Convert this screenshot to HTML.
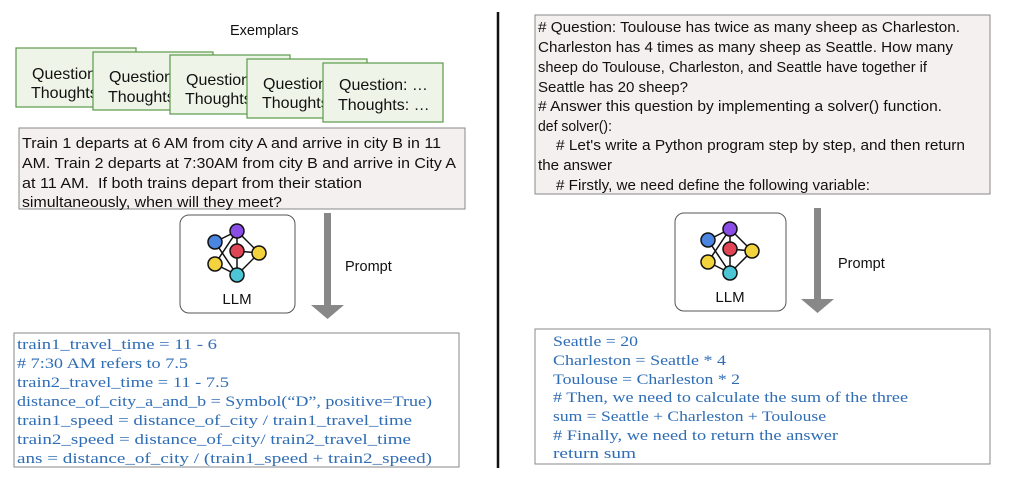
<!DOCTYPE html>
<html><head><meta charset="utf-8"><style>
html,body{margin:0;padding:0;background:#fff;width:1022px;height:486px;overflow:hidden}
svg text{font-family:"Liberation Sans",sans-serif;fill:#111}
svg text.code{font-family:"Liberation Serif",serif;fill:#2f6db5}
</style></head><body>
<svg width="1022" height="486" viewBox="0 0 1022 486" xmlns="http://www.w3.org/2000/svg">
<line x1="498" y1="12" x2="498" y2="468" stroke="#111" stroke-width="2.5"/>

<text x="230" y="35" font-size="14.5">Exemplars</text>
<g>
<rect x="16" y="48" width="120" height="59" fill="#eef5e8" stroke="#5a9a4a" stroke-width="1.2"/>
<text x="32" y="79" font-size="16">Question</text><text x="31" y="98" font-size="16">Thoughts</text></g>
<g>
<rect x="93" y="52" width="120" height="58" fill="#eef5e8" stroke="#5a9a4a" stroke-width="1.2"/>
<text x="109" y="82" font-size="16">Question</text><text x="108" y="102" font-size="16">Thoughts</text></g>
<g>
<rect x="170" y="55" width="120" height="59" fill="#eef5e8" stroke="#5a9a4a" stroke-width="1.2"/>
<text x="186" y="85" font-size="16">Question</text><text x="185" y="104" font-size="16">Thoughts</text></g>
<g>
<rect x="247" y="59" width="120" height="59" fill="#eef5e8" stroke="#5a9a4a" stroke-width="1.2"/>
<text x="263" y="89" font-size="16">Question</text><text x="262" y="108" font-size="16">Thoughts</text></g>
<g>
<rect x="323" y="63" width="120" height="59" fill="#eef5e8" stroke="#5a9a4a" stroke-width="1.2"/>
<text x="339" y="90" font-size="16">Question: …</text><text x="338" y="110" font-size="16">Thoughts: …</text></g>

<g>
<rect x="19" y="128" width="446" height="81" fill="#f5f0f0" stroke="#888" stroke-width="1"/>
<text x="22" y="148" font-size="14.5" textLength="419" lengthAdjust="spacingAndGlyphs">Train 1 departs at 6 AM from city A and arrive in city B in 11</text>
<text x="22" y="168" font-size="14.5" textLength="434" lengthAdjust="spacingAndGlyphs">AM. Train 2 departs at 7:30AM from city B and arrive in City A</text>
<text x="22" y="188" font-size="14.5" textLength="340" lengthAdjust="spacingAndGlyphs" xml:space="preserve">at 11 AM.  If both trains depart from their station</text>
<text x="22" y="207" font-size="14.5" textLength="260" lengthAdjust="spacingAndGlyphs">simultaneously, when will they meet?</text>
</g>

<g>
<rect x="180" y="215" width="115" height="98" rx="9" fill="#fff" stroke="#555" stroke-width="1"/>
<g stroke="#111" stroke-width="1.5" fill="none">
<line x1="215" y1="242" x2="237" y2="231"/><line x1="215" y1="242" x2="237" y2="275"/>
<line x1="237" y1="231" x2="259" y2="253"/><line x1="237" y1="231" x2="215" y2="264"/><line x1="237" y1="231" x2="237" y2="251"/>
<line x1="237" y1="251" x2="259" y2="253"/><line x1="237" y1="251" x2="237" y2="275"/><line x1="215" y1="264" x2="237" y2="275"/>
<line x1="259" y1="253" x2="237" y2="275"/>
</g>
<g stroke="#111" stroke-width="1.5">
<circle cx="215" cy="242" r="7" fill="#4a86e0"/><circle cx="237" cy="231" r="7" fill="#8a4de6"/>
<circle cx="237" cy="251" r="7" fill="#e04555"/><circle cx="259" cy="253" r="7" fill="#f2d33c"/>
<circle cx="215" cy="264" r="7" fill="#f2d33c"/><circle cx="237" cy="275" r="7" fill="#4cc6d4"/>
</g>
<text x="237" y="304" font-size="15" text-anchor="middle">LLM</text>
</g>

<g>
<rect x="324" y="213" width="7" height="93" fill="#888"/>
<polygon points="311,305 344,305 327.5,319" fill="#888"/>
</g>
<text x="345" y="271" font-size="14.5">Prompt</text>

<g>
<rect x="14" y="333" width="445" height="134" fill="#fff" stroke="#888" stroke-width="1"/>
<text class="code" x="17" y="349" font-size="15" textLength="200" lengthAdjust="spacingAndGlyphs">train1_travel_time = 11 - 6</text>
<text class="code" x="17" y="368" font-size="15" textLength="171" lengthAdjust="spacingAndGlyphs"># 7:30 AM refers to 7.5</text>
<text class="code" x="17" y="387" font-size="15" textLength="212" lengthAdjust="spacingAndGlyphs">train2_travel_time = 11 - 7.5</text>
<text class="code" x="17" y="406" font-size="15" textLength="415" lengthAdjust="spacingAndGlyphs">distance_of_city_a_and_b = Symbol(“D”, positive=True)</text>
<text class="code" x="17" y="425" font-size="15" textLength="395" lengthAdjust="spacingAndGlyphs">train1_speed = distance_of_city / train1_travel_time</text>
<text class="code" x="17" y="444" font-size="15" textLength="394" lengthAdjust="spacingAndGlyphs">train2_speed = distance_of_city/ train2_travel_time</text>
<text class="code" x="17" y="463" font-size="15" textLength="415" lengthAdjust="spacingAndGlyphs">ans = distance_of_city / (train1_speed + train2_speed)</text>
</g>

<g>
<rect x="535" y="15" width="455" height="179" fill="#f5f0f0" stroke="#888" stroke-width="1"/>
<text x="538" y="32" font-size="14.5" textLength="422" lengthAdjust="spacingAndGlyphs"># Question: Toulouse has twice as many sheep as Charleston.</text>
<text x="538" y="52" font-size="14.5" textLength="415" lengthAdjust="spacingAndGlyphs">Charleston has 4 times as many sheep as Seattle. How many</text>
<text x="538" y="72" font-size="14.5" textLength="389" lengthAdjust="spacingAndGlyphs">sheep do Toulouse, Charleston, and Seattle have together if</text>
<text x="538" y="92" font-size="14.5" textLength="150" lengthAdjust="spacingAndGlyphs">Seattle has 20 sheep?</text>
<text x="538" y="111" font-size="14.5" textLength="404" lengthAdjust="spacingAndGlyphs"># Answer this question by implementing a solver() function.</text>
<text x="538" y="131" font-size="14.5" textLength="74" lengthAdjust="spacingAndGlyphs">def solver():</text>
<text x="556" y="150" font-size="14.5" textLength="409" lengthAdjust="spacingAndGlyphs"># Let's write a Python program step by step, and then return</text>
<text x="538" y="170" font-size="14.5" textLength="74" lengthAdjust="spacingAndGlyphs">the answer</text>
<text x="556" y="190" font-size="14.5" textLength="314" lengthAdjust="spacingAndGlyphs"># Firstly, we need define the following variable:</text>
</g>

<g transform="translate(493,-2)">
<rect x="182" y="215" width="111" height="98" rx="9" fill="#fff" stroke="#555" stroke-width="1"/>
<g stroke="#111" stroke-width="1.5" fill="none">
<line x1="215" y1="242" x2="237" y2="231"/><line x1="215" y1="242" x2="237" y2="275"/>
<line x1="237" y1="231" x2="259" y2="253"/><line x1="237" y1="231" x2="215" y2="264"/><line x1="237" y1="231" x2="237" y2="251"/>
<line x1="237" y1="251" x2="259" y2="253"/><line x1="237" y1="251" x2="237" y2="275"/><line x1="215" y1="264" x2="237" y2="275"/>
<line x1="259" y1="253" x2="237" y2="275"/>
</g>
<g stroke="#111" stroke-width="1.5">
<circle cx="215" cy="242" r="7" fill="#4a86e0"/><circle cx="237" cy="231" r="7" fill="#8a4de6"/>
<circle cx="237" cy="251" r="7" fill="#e04555"/><circle cx="259" cy="253" r="7" fill="#f2d33c"/>
<circle cx="215" cy="264" r="7" fill="#f2d33c"/><circle cx="237" cy="275" r="7" fill="#4cc6d4"/>
</g>
<text x="237" y="304" font-size="15" text-anchor="middle">LLM</text>
</g>

<g>
<rect x="814" y="208" width="7" height="92" fill="#888"/>
<polygon points="801,299 834,299 817.5,313" fill="#888"/>
</g>
<text x="838" y="268" font-size="14.5">Prompt</text>

<g>
<rect x="535" y="329" width="455" height="135" fill="#fff" stroke="#888" stroke-width="1"/>
<text class="code" x="553" y="346" font-size="15" textLength="85" lengthAdjust="spacingAndGlyphs">Seattle = 20</text>
<text class="code" x="553" y="365" font-size="15" textLength="173" lengthAdjust="spacingAndGlyphs">Charleston = Seattle * 4</text>
<text class="code" x="553" y="384" font-size="15" textLength="187" lengthAdjust="spacingAndGlyphs">Toulouse = Charleston * 2</text>
<text class="code" x="553" y="402" font-size="15" textLength="355" lengthAdjust="spacingAndGlyphs"># Then, we need to calculate the sum of the three</text>
<text class="code" x="553" y="421" font-size="15" textLength="273" lengthAdjust="spacingAndGlyphs">sum = Seattle + Charleston + Toulouse</text>
<text class="code" x="553" y="440" font-size="15" textLength="285" lengthAdjust="spacingAndGlyphs"># Finally, we need to return the answer</text>
<text class="code" x="553" y="458" font-size="15" textLength="83" lengthAdjust="spacingAndGlyphs">return sum</text>
</g>
</svg>
</body></html>
